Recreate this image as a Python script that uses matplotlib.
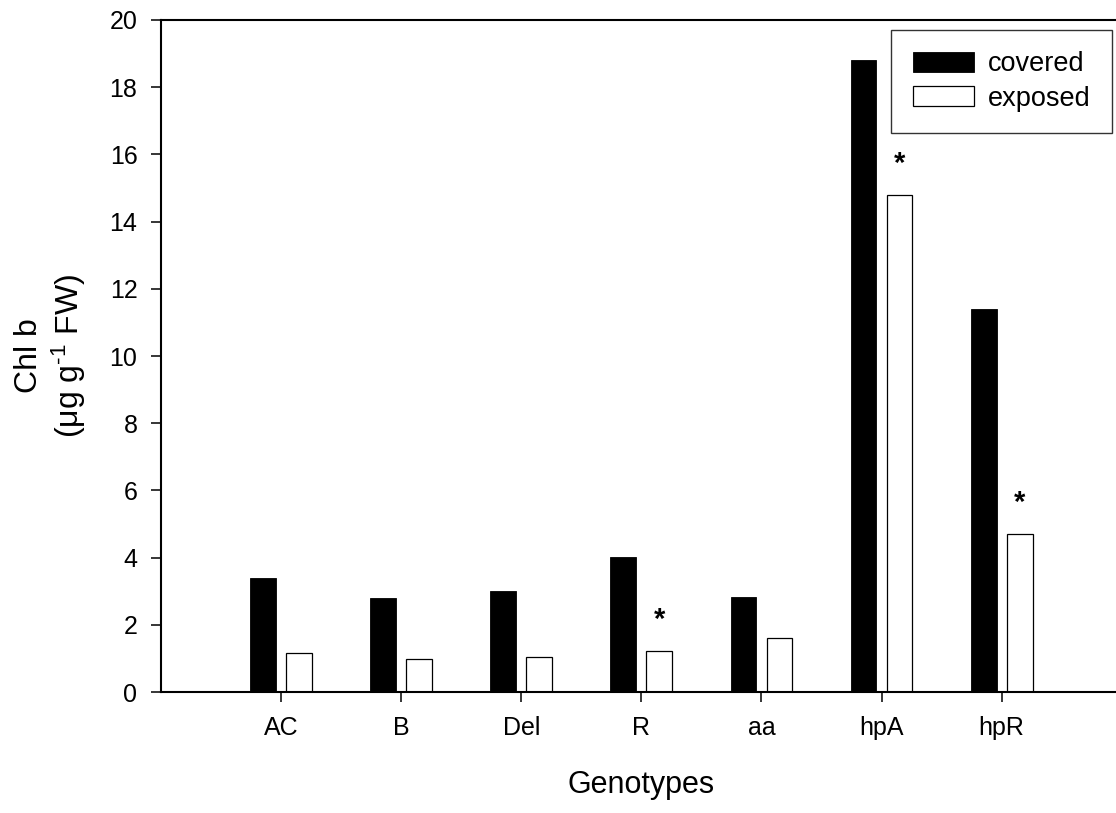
import numpy as np
import matplotlib
matplotlib.use("Agg")
import matplotlib.pyplot as plt

plt.rcParams['font.family'] = ['Liberation Sans', 'DejaVu Sans']
plt.rcParams['mathtext.fontset'] = 'custom'
plt.rcParams['mathtext.rm'] = 'Liberation Sans'
plt.rcParams['mathtext.it'] = 'Liberation Sans:italic'

# data
genotypes = ['AC', 'B', 'Del', 'R', 'aa', 'hpA', 'hpR']
covered = [3.38, 2.81, 3.00, 4.03, 2.82, 18.81, 11.40]
exposed = [1.17, 0.99, 1.05, 1.23, 1.60, 14.80, 4.70]
significant = [False, False, False, True, False, True, True]

fig = plt.figure(figsize=(11.16, 8.13), dpi=100)
ax = fig.add_axes([161/1116, 121/813, 960.7/1116, 672/813])

x = np.arange(len(genotypes))
w = 0.215
off = 0.15
ax.bar(x - off, covered, w, color='black', edgecolor='black', linewidth=0.6,
       label='covered')
ax.bar(x + off, exposed, w, color='white', edgecolor='black', linewidth=0.9,
       label='exposed')

for xi, v, sig in zip(x, exposed, significant):
    if sig:
        ax.text(xi + off, v + 0.5, '*', ha='center', va='bottom',
                fontsize=21, fontweight='bold')

ax.set_xlim(-1, 7)
ax.set_ylim(0, 20)
ax.set_yticks(np.arange(0, 21, 2))
ax.set_xticks(x)
ax.set_xticklabels(genotypes)

ax.spines['right'].set_visible(False)
for side in ['left', 'bottom', 'top']:
    ax.spines[side].set_linewidth(1.5)

ax.tick_params(axis='both', direction='out', length=7, width=1.1,
               labelsize=18, pad=10)

ax.set_ylabel('Chl b\n(μg g$^{\\text{-}1}$ FW)', fontsize=23, linespacing=1.2)
ax.yaxis.set_label_coords(-0.076, 0.5)
ax.set_xlabel('Genotypes', fontsize=22)
ax.xaxis.set_label_coords(0.5, -0.116)

leg = ax.legend(loc='upper right', bbox_to_anchor=(1111.7/1116, 1 - 30/813),
                bbox_transform=fig.transFigure, borderaxespad=0,
                fontsize=19.5, frameon=True, fancybox=False,
                handlelength=2.26, handleheight=0.74, handletextpad=0.52,
                borderpad=0.78, labelspacing=0.31)
leg.get_frame().set_edgecolor('black')
leg.get_frame().set_linewidth(1.0)

fig.savefig('out.png', dpi=100)
